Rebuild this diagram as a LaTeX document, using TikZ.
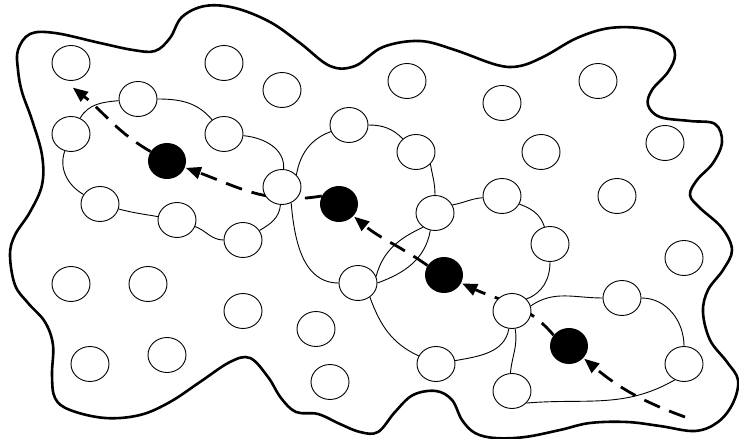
\documentclass[tikz,border=0pt]{standalone}
\usetikzlibrary{shapes.geometric, arrows.meta, backgrounds}

\begin{document}
\begin{tikzpicture}[x=1pt, y=1pt,
  site/.style={draw, ellipse, fill=white, line width=0.9pt, minimum width=38pt, minimum height=35pt, inner sep=0pt},
  hub/.style={ellipse, fill=black, minimum width=38pt, minimum height=36pt, inner sep=0pt},
  ring/.style={line width=0.9pt},
  walk/.style={line width=2.8pt, dash pattern=on 17pt off 10pt, -{Triangle[length=15pt, width=12pt]}, shorten >=1pt},
  border/.style={line width=2.6pt}]
  \useasboundingbox (0,0) rectangle (739,439);

  % sites
  \node[site] (v1) at (71,376) {};
  \node[site] (v2) at (224,376) {};
  \node[site] (v3) at (138,340) {};
  \node[site] (v4) at (282,349) {};
  \node[site] (v5) at (71,305) {};
  \node[site] (v6) at (224,305) {};
  \node[site] (v7) at (349,314) {};
  \node[site] (v8) at (407,358) {};
  \node[site] (v9) at (502,336) {};
  \node[site] (v10) at (598,358) {};
  \node[site] (v11) at (416,287) {};
  \node[site] (v12) at (541,287) {};
  \node[site] (v13) at (665,296) {};
  \node[site] (v14) at (282,252) {};
  \node[site] (v15) at (100,235) {};
  \node[site] (v16) at (177,219) {};
  \node[site] (v17) at (243,199) {};
  \node[site] (v18) at (435,226) {};
  \node[site] (v19) at (502,243) {};
  \node[site] (v20) at (617,243) {};
  \node[site] (v21) at (550,195) {};
  \node[site] (v22) at (684,181) {};
  \node[site] (v23) at (71,155) {};
  \node[site] (v24) at (148,155) {};
  \node[site] (v25) at (358,156) {};
  \node[site] (v26) at (243,128) {};
  \node[site] (v27) at (316,110) {};
  \node[site] (v28) at (512,128) {};
  \node[site] (v29) at (622,141) {};
  \node[site] (v30) at (90,75) {};
  \node[site] (v31) at (167,84) {};
  \node[site] (v32) at (330,57) {};
  \node[site] (v33) at (436,75) {};
  \node[site] (v34) at (684,75) {};
  \node[site] (v35) at (512,48) {};

  % visited sites
  \node[hub] (m1) at (167,278) {};
  \node[hub] (m2) at (339,235) {};
  \node[hub] (m3) at (444,164) {};
  \node[hub] (m4) at (569,93) {};

  \coordinate (s0) at (685,22);
  \coordinate (e0) at (72,352);

  % neighbourhood rings
  \draw[ring] (v3) to[out=0,in=130] (v6) to[out=-5,in=85] (v14)
    to[out=-95,in=30] (v17) to[out=180,in=-20] (v16) to[out=170,in=-15] (v15)
    to[out=150,in=-110] (v5) to[out=60,in=185] (v3);
  \draw[ring] (v14.40) to[out=80,in=200] (v7) to[out=0,in=135] (v11);
  \draw[ring] (v11.-40) to[out=-80,in=90] (v18);
  \draw[ring] (v18.-105) to[out=-100,in=20] (v25.0);
  \draw[ring] (v14.-60) to[out=-85,in=180] (v25);
  \draw[ring] (v18.25) to[out=10,in=185] (v19);
  \draw[ring] (v19.-25) to[out=-20,in=108] (v21);
  \draw[ring] (v21) to[out=-90,in=20] (v28.40);
  \draw[ring] (v28) to[out=-100,in=10] (v33);
  \draw[ring] (v33) to[out=155,in=-70] (v25.-50);
  \draw[ring] (v25.20) to[out=75,in=205] (v18.-130);
  \draw[ring] (v28.15) to[out=35,in=180] (v29) to[out=0,in=90] (v34);
  \draw[ring] (v34.-120) to[out=-150,in=5] (v35.-40);
  \draw[ring] (v35.95) to[out=85,in=-80] (v28);

  \begin{scope}[on background layer]
    \draw[border] plot[smooth cycle, tension=0.6] coordinates {
      (18,389) (30,405) (55,406) (100,396) (133,389) (155,388) (170,401)
      (182,422) (205,433) (235,431) (270,417) (300,396) (330,373) (355,373)
      (383,392) (420,398) (455,389) (497,374) (520,373) (545,383) (577,401)
      (610,411) (645,410) (668,399) (675,384) (668,367) (652,349) (648,334)
      (660,322) (690,318) (715,315) (722,297) (713,276) (697,259) (690,244)
      (700,231) (722,211) (732,189) (723,169) (708,149) (703,127) (710,99)
      (727,77) (738,59) (733,36) (718,17) (695,8) (660,13) (627,17) (590,16)
      (560,9) (525,2) (495,1) (475,6) (462,19) (452,39) (436,48) (413,44)
      (395,27) (378,7) (360,7) (340,15) (318,25) (296,27) (281,41) (268,62)
      (250,81) (230,77) (200,57) (170,37) (140,24) (105,21) (70,29) (55,41)
      (52,64) (53,94) (45,117) (28,136) (15,154) (10,184) (15,204) (30,227)
      (42,254) (42,284) (32,319) (22,347) (18,369)};
    % walk
    \draw[walk] (s0) to[out=160,in=-40] (m4);
    \draw[walk] (m4.145) to[out=130,in=-25] (m3);
    \draw[walk] (m3.150) to[out=145,in=-40] (m2);
    \draw[walk] (m2.155) to[out=190,in=-20] (m1);
    \draw[walk] (m1) to[out=150,in=-38] (e0);
  \end{scope}
\end{tikzpicture}
\end{document}
